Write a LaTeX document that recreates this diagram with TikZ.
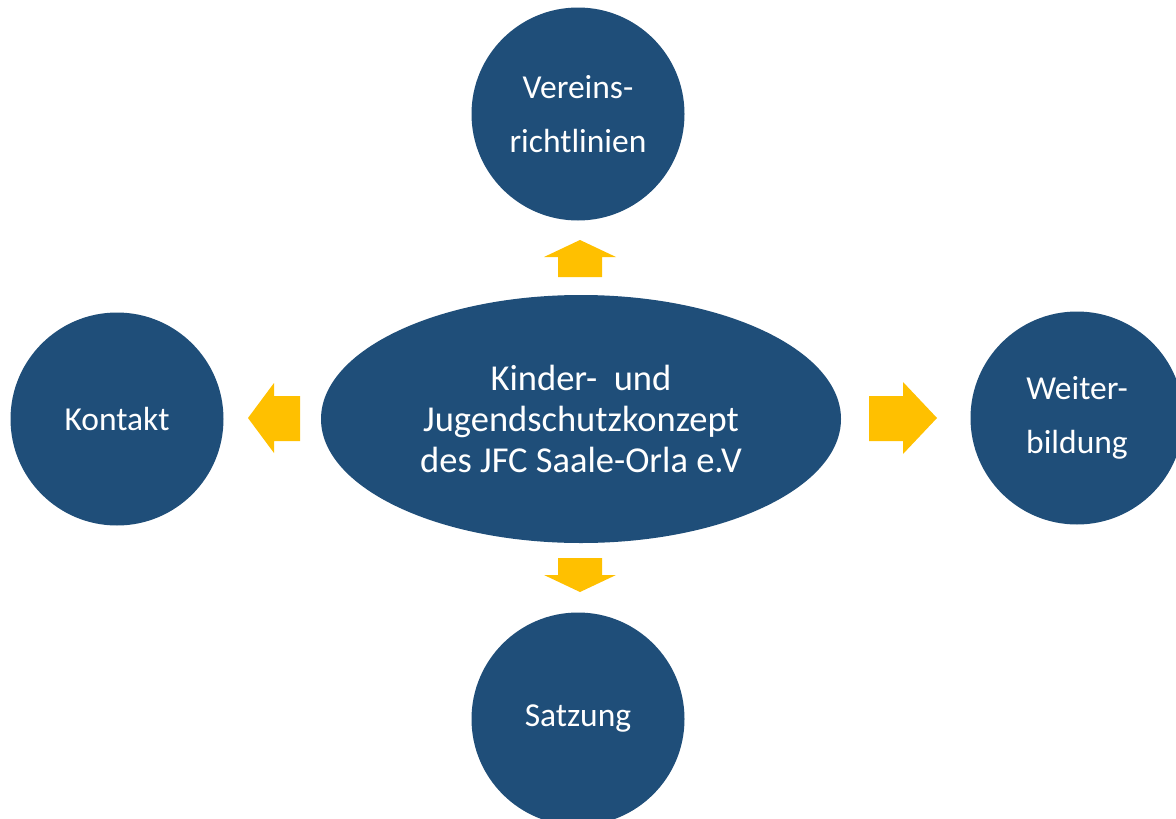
\documentclass[tikz,border=0pt]{standalone}
\usepackage{fontspec}
\setmainfont{Carlito}
\usetikzlibrary{shapes.geometric}
\definecolor{navy}{HTML}{1F4E79}
\definecolor{gold}{HTML}{FFC000}
\begin{document}
\begin{tikzpicture}[x=1pt,y=-1pt,
  topic/.style={circle,fill=navy,text=white,minimum size=213pt,inner sep=0pt,align=center,
    font=\fontsize{33.5}{54}\selectfont},
  core/.style={ellipse,fill=navy,text=white,minimum width=520pt,minimum height=248pt,inner sep=0pt,align=center,
    font=\fontsize{36.5}{41}\selectfont},
  blockarrow/.style={fill=gold}]
\useasboundingbox (0,0) rectangle (1176,819);
\clip (0,0) rectangle (1176,819);
\fill[white] (0,0) rectangle (1176,819);
\node[core] (c) at (581,419) {Kinder-\ \ und\\Jugendschutzkonzept\\des JFC Saale-Orla e.V};
\node[topic] (t) at (578,114) {Vereins-\\richtlinien};
\node[topic] (b) at (578,719) {Satzung};
\node[topic] (l) at (117,419) {Kontakt};
\node[topic] (r) at (1077,418) {Weiter-\\bildung};
% up arrow
\fill[blockarrow] (558,277) -- (558,257) -- (544,257) -- (580,240) -- (616,257) -- (602,257) -- (602,277) -- cycle;
% down arrow
\fill[blockarrow] (558,558) -- (558,575) -- (544,575) -- (580,592) -- (616,575) -- (602,575) -- (602,558) -- cycle;
% left arrow
\fill[blockarrow] (300,396) -- (274,396) -- (274,383) -- (248,418) -- (274,453) -- (274,441) -- (300,441) -- cycle;
% right arrow
\fill[blockarrow] (869,396) -- (903,396) -- (903,382) -- (937,418) -- (903,454) -- (903,441) -- (869,441) -- cycle;
\end{tikzpicture}
\end{document}
